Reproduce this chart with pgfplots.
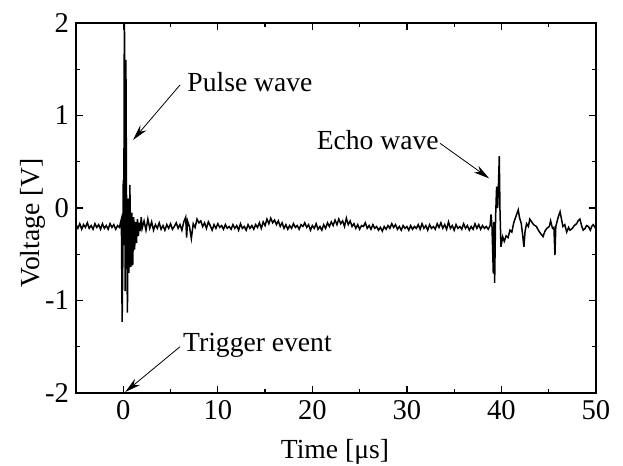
\documentclass[border=0pt]{standalone}
\usepackage{fontspec}
\setmainfont{Liberation Serif}
\usepackage{pgfplots}
\pgfplotsset{compat=1.18}
\usetikzlibrary{arrows.meta}

\begin{document}
\begin{tikzpicture}
\useasboundingbox (-38pt,-36.5pt) rectangle (273.5pt,196.5pt);
\begin{axis}[
  at={(0,0)}, anchor=south west,
  scale only axis, width=260pt, height=185pt,
  xmin=-5, xmax=50, ymin=-2, ymax=2,
  xtick={0,10,...,50}, minor xtick={-5,5,15,25,35,45},
  ytick={-2,-1,0,1,2}, yticklabels={-2,-1,0,1,2},
  minor ytick={-1.5,-0.5,0.5,1.5},
  tick align=inside, major tick length=3.5pt, minor tick length=2.2pt,
  tick style={black, line width=0.6pt},
  axis line style={line width=0.7pt},
  /pgf/number format/assume math mode=true,
  tick label style={font=\fontsize{14.3}{16}\selectfont},
  label style={font=\fontsize{13.8}{16}\selectfont},
  xlabel={Time [μs]}, ylabel={Voltage [V]},
  xlabel style={at={(axis description cs:0.498,-0.158)}, anchor=center},
  ylabel style={at={(axis description cs:-0.083,0.46)}, anchor=center},
  clip=true,
]
\addplot[black, line width=0.75pt] coordinates {
(-5.0,-0.18) (-4.8,-0.22) (-4.6,-0.17) (-4.4,-0.23) (-4.2,-0.18) (-4.0,-0.21)
(-3.8,-0.16) (-3.6,-0.22) (-3.4,-0.19) (-3.2,-0.23) (-3.0,-0.17) (-2.8,-0.21)
(-2.6,-0.18) (-2.4,-0.23) (-2.2,-0.17) (-2.0,-0.22) (-1.8,-0.19) (-1.6,-0.23)
(-1.4,-0.17) (-1.2,-0.21) (-1.0,-0.18) (-0.8,-0.23) (-0.6,-0.19) (-0.4,-0.21)
(-0.3,-0.16) (-0.2,-0.12) (-0.12,-1.23) (-0.05,-0.6) (0.0,0.3) (0.05,-0.4)
(0.12,2.3) (0.2,-0.9) (0.28,1.6) (0.36,-0.3) (0.44,-1.13) (0.52,0.1)
(0.6,-0.7) (0.7,0.25) (0.8,-0.64) (0.9,-0.05) (1.0,-0.62) (1.1,-0.1)
(1.2,-0.45) (1.3,-0.15) (1.4,-0.38) (1.5,-0.12) (1.6,-0.3) (1.7,-0.16)
(1.8,-0.25) (1.9,-0.1) (2.0,-0.22)
(2.2,-0.14) (2.4,-0.24) (2.6,-0.12) (2.8,-0.22) (3.0,-0.15) (3.2,-0.24)
(3.4,-0.18) (3.6,-0.22) (3.8,-0.16) (4.0,-0.23) (4.2,-0.19) (4.4,-0.24)
(4.6,-0.18) (4.8,-0.22) (5.0,-0.17) (5.2,-0.23) (5.4,-0.2) (5.6,-0.16)
(5.8,-0.22) (6.0,-0.18) (6.2,-0.24) (6.4,-0.15) (6.6,-0.1) (6.7,-0.32)
(6.8,-0.14) (7.0,-0.2) (7.2,-0.33) (7.4,-0.17) (7.6,-0.21) (7.8,-0.12)
(8.0,-0.16) (8.2,-0.14) (8.4,-0.2) (8.6,-0.16) (8.8,-0.22) (9.0,-0.15)
(9.2,-0.19) (9.4,-0.24) (9.6,-0.18) (9.8,-0.22) (10.0,-0.17) (10.2,-0.21)
(10.4,-0.19) (10.6,-0.23) (10.8,-0.18) (11.0,-0.22) (11.2,-0.2) (11.4,-0.23)
(11.6,-0.18) (11.8,-0.22) (12.0,-0.19) (12.2,-0.24) (12.4,-0.17) (12.6,-0.22)
(12.8,-0.2) (13.0,-0.24) (13.2,-0.18) (13.4,-0.22) (13.6,-0.19) (13.8,-0.23)
(14.0,-0.18) (14.2,-0.21) (14.4,-0.16) (14.6,-0.22) (14.8,-0.15) (15.0,-0.19)
(15.2,-0.12) (15.4,-0.17) (15.6,-0.11) (15.8,-0.16) (16.0,-0.13) (16.2,-0.18)
(16.4,-0.14) (16.6,-0.2) (16.8,-0.16) (17.0,-0.22) (17.2,-0.18) (17.4,-0.23)
(17.6,-0.19) (17.8,-0.22) (18.0,-0.17) (18.2,-0.21) (18.4,-0.19) (18.6,-0.23)
(18.8,-0.18) (19.0,-0.2) (19.2,-0.16) (19.4,-0.21) (19.6,-0.18) (19.8,-0.24)
(20.0,-0.19) (20.2,-0.22) (20.4,-0.17) (20.6,-0.23) (20.8,-0.2) (21.0,-0.24)
(21.2,-0.18) (21.4,-0.22) (21.6,-0.16) (21.8,-0.2) (22.0,-0.15) (22.2,-0.19)
(22.4,-0.13) (22.6,-0.18) (22.8,-0.12) (23.0,-0.17) (23.2,-0.14) (23.4,-0.2)
(23.6,-0.11) (23.8,-0.18) (24.0,-0.14) (24.2,-0.2) (24.4,-0.17) (24.6,-0.22)
(24.8,-0.18) (25.0,-0.23) (25.2,-0.19) (25.4,-0.2) (25.6,-0.16) (25.8,-0.22)
(26.0,-0.19) (26.2,-0.23) (26.4,-0.18) (26.6,-0.22) (26.8,-0.2) (27.0,-0.24)
(27.2,-0.21) (27.4,-0.25) (27.6,-0.2) (27.8,-0.23) (28.0,-0.19) (28.2,-0.22)
(28.4,-0.17) (28.6,-0.21) (28.8,-0.18) (29.0,-0.23) (29.2,-0.2) (29.4,-0.24)
(29.6,-0.19) (29.8,-0.22) (30.0,-0.2) (30.2,-0.24) (30.4,-0.19) (30.6,-0.23)
(30.8,-0.2) (31.0,-0.22) (31.2,-0.18) (31.4,-0.23) (31.6,-0.17) (31.8,-0.22)
(32.0,-0.19) (32.2,-0.24) (32.4,-0.18) (32.6,-0.22) (32.8,-0.2) (33.0,-0.23)
(33.2,-0.17) (33.4,-0.21) (33.6,-0.16) (33.8,-0.22) (34.0,-0.18) (34.2,-0.23)
(34.4,-0.15) (34.6,-0.22) (34.8,-0.19) (35.0,-0.24) (35.2,-0.18) (35.4,-0.22)
(35.6,-0.2) (35.8,-0.23) (36.0,-0.17) (36.2,-0.22) (36.4,-0.19) (36.6,-0.24)
(36.8,-0.2) (37.0,-0.23) (37.2,-0.17) (37.4,-0.22) (37.6,-0.18) (37.8,-0.23)
(38.0,-0.19) (38.2,-0.22) (38.4,-0.2) (38.6,-0.23) (38.8,-0.19)
(38.9,-0.07) (39.0,-0.2) (39.14,-0.71) (39.2,-0.15) (39.28,-0.81) (39.38,-0.1)
(39.49,0.23) (39.6,0.0) (39.7,0.3) (39.77,0.56) (39.85,-0.05) (39.95,-0.42)
(40.13,-0.31) (40.3,-0.36) (40.5,-0.3) (40.7,-0.32) (40.9,-0.24) (41.1,-0.26)
(41.3,-0.16) (41.5,-0.1) (41.78,-0.02) (41.9,-0.1) (42.1,-0.17) (42.25,-0.3)
(42.38,-0.42) (42.5,-0.25) (42.66,-0.17) (42.85,-0.2) (43.0,-0.12) (43.2,-0.15)
(43.4,-0.18) (43.7,-0.2) (43.9,-0.24) (44.1,-0.27) (44.4,-0.31) (44.6,-0.25)
(44.8,-0.22) (45.06,-0.2) (45.2,-0.14) (45.4,-0.22) (45.55,-0.21) (45.66,-0.51)
(45.75,-0.2) (46.0,-0.1) (46.2,-0.04) (46.35,-0.12) (46.5,-0.2) (46.7,-0.18)
(46.9,-0.26) (47.1,-0.21) (47.25,-0.24) (47.5,-0.22) (47.7,-0.19) (47.95,-0.17)
(48.1,-0.14) (48.3,-0.12) (48.5,-0.2) (48.65,-0.24) (48.85,-0.22) (49.0,-0.19)
(49.2,-0.2) (49.4,-0.24) (49.55,-0.2) (49.7,-0.18) (49.9,-0.21) (50.0,-0.18)
};
% annotations
\tikzset{ann/.style={font=\fontsize{13.8}{16}\selectfont, inner sep=0pt}}
\draw[line width=0.4pt, -{Stealth[length=8pt,width=4pt]}] (axis cs:6.0,1.33) -- (axis cs:1.03,0.735);
\node[ann, anchor=west] at (axis cs:6.75,1.36) {Pulse wave};
\draw[line width=0.4pt, -{Stealth[length=8pt,width=4pt]}] (axis cs:33.5,0.70) -- (axis cs:38.7,0.32);
\node[ann, anchor=east] at (axis cs:33.4,0.73) {Echo wave};
\draw[line width=0.4pt, -{Stealth[length=8pt,width=4pt]}] (axis cs:6.0,-1.50) -- (axis cs:0.2,-1.99);
\node[ann, anchor=west] at (axis cs:6.3,-1.49) {Trigger event};
\end{axis}
\end{tikzpicture}
\end{document}
